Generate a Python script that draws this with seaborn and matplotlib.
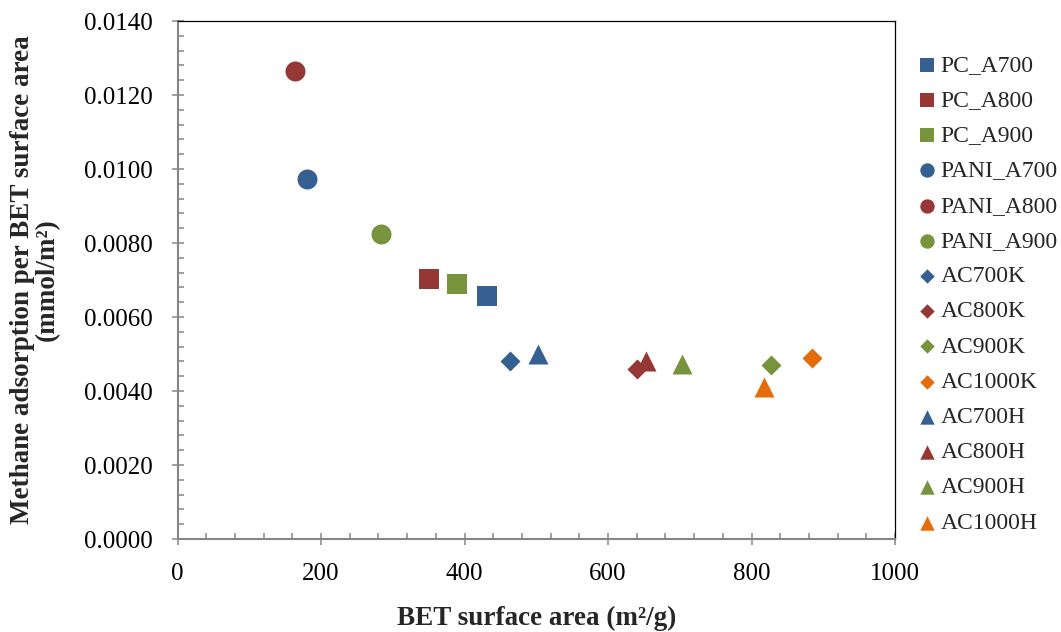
import matplotlib
matplotlib.use("Agg")
import matplotlib.pyplot as plt
from matplotlib.ticker import MultipleLocator, FormatStrFormatter
import seaborn as sns

# Sample names, BET surface area (m2/g) and methane uptake per unit area (mmol/m2)
samples = ["PC_A700", "PC_A800", "PC_A900",
           "PANI_A700", "PANI_A800", "PANI_A900",
           "AC700K", "AC800K", "AC900K", "AC1000K",
           "AC700H", "AC800H", "AC900H", "AC1000H"]
bet_area = [431, 351, 390,
            180, 164, 283,
            463, 641, 827, 885,
            502, 653, 703, 818]
ads_per_area = [0.00656, 0.00703, 0.00689,
                0.00972, 0.01266, 0.00824,
                0.00481, 0.00460, 0.00471, 0.00490,
                0.00500, 0.00482, 0.00472, 0.00411]

# Appearance per sample family / activation temperature
temp_colors = {"700": "#376092", "800": "#953735", "900": "#77933C", "1000": "#E46C0A"}
family_marker = {"PC": ("s", 222), "PANI": ("o", 207), "K": ("D", 104), "H": ("^", 207)}


def style_for(name):
    if name.startswith("PC_"):
        fam, temp = "PC", name.split("A")[-1]
    elif name.startswith("PANI_"):
        fam, temp = "PANI", name.split("_A")[-1]
    else:
        fam, temp = name[-1], name[2:-1]
    marker, size = family_marker[fam]
    return temp_colors[temp], marker, size


sns.set_style("white")
plt.rcParams["font.family"] = ["Liberation Serif", "DejaVu Serif"]

fig = plt.figure(figsize=(10.61, 6.32), dpi=100)
W, H = 1061, 632
left, right, top, bottom = 177.5, 895, 21, 539
ax = fig.add_axes([left / W, 1 - bottom / H, (right - left) / W, (bottom - top) / H])

for name, x, y in zip(samples, bet_area, ads_per_area):
    color, marker, size = style_for(name)
    sns.scatterplot(x=[x], y=[y], ax=ax, color=color, marker=marker, s=size,
                    linewidth=0, label=name, zorder=3)

ax.set_xlim(0, 1000)
ax.set_ylim(0, 0.014)
ax.xaxis.set_major_locator(MultipleLocator(200))
ax.xaxis.set_minor_locator(MultipleLocator(40))
ax.yaxis.set_major_locator(MultipleLocator(0.002))
ax.yaxis.set_minor_locator(MultipleLocator(0.0004))
ax.yaxis.set_major_formatter(FormatStrFormatter("%.4f"))

axis_grey = "#868686"
for side in ("left", "bottom"):
    ax.spines[side].set_color(axis_grey)
    ax.spines[side].set_linewidth(1.5)
for side in ("top", "right"):
    ax.spines[side].set_color("black")
    ax.spines[side].set_linewidth(0.9)

ax.tick_params(which="major", direction="inout", length=9, width=1.1, color=axis_grey,
               labelsize=18, labelcolor="black", pad=13, bottom=True, left=True,
               top=False, right=False)
ax.tick_params(which="minor", direction="in", length=4, width=1.1, color=axis_grey,
               bottom=True, left=True, top=False, right=False)

ax.set_xlabel("BET surface area (m²/g)", fontsize=19.5, fontweight="bold", va="center")
ax.xaxis.set_label_coords(0.5, (bottom - 618) / (bottom - top))
ax.set_ylabel("Methane adsorption per BET surface area\n(mmol/m²)", fontsize=19.5,
              fontweight="bold", va="center", ha="center", linespacing=1.0)
ax.yaxis.set_label_coords((35 - left) / (right - left), 0.5)

ax.legend(loc="center left", bbox_to_anchor=(918 / W, 1 - 294 / H),
          bbox_transform=fig.transFigure, frameon=False, fontsize=17,
          markerscale=0.72, handlelength=0.8, handletextpad=0.15,
          labelspacing=0.58, borderpad=0, borderaxespad=0)

fig.savefig("out.png", dpi=100)
